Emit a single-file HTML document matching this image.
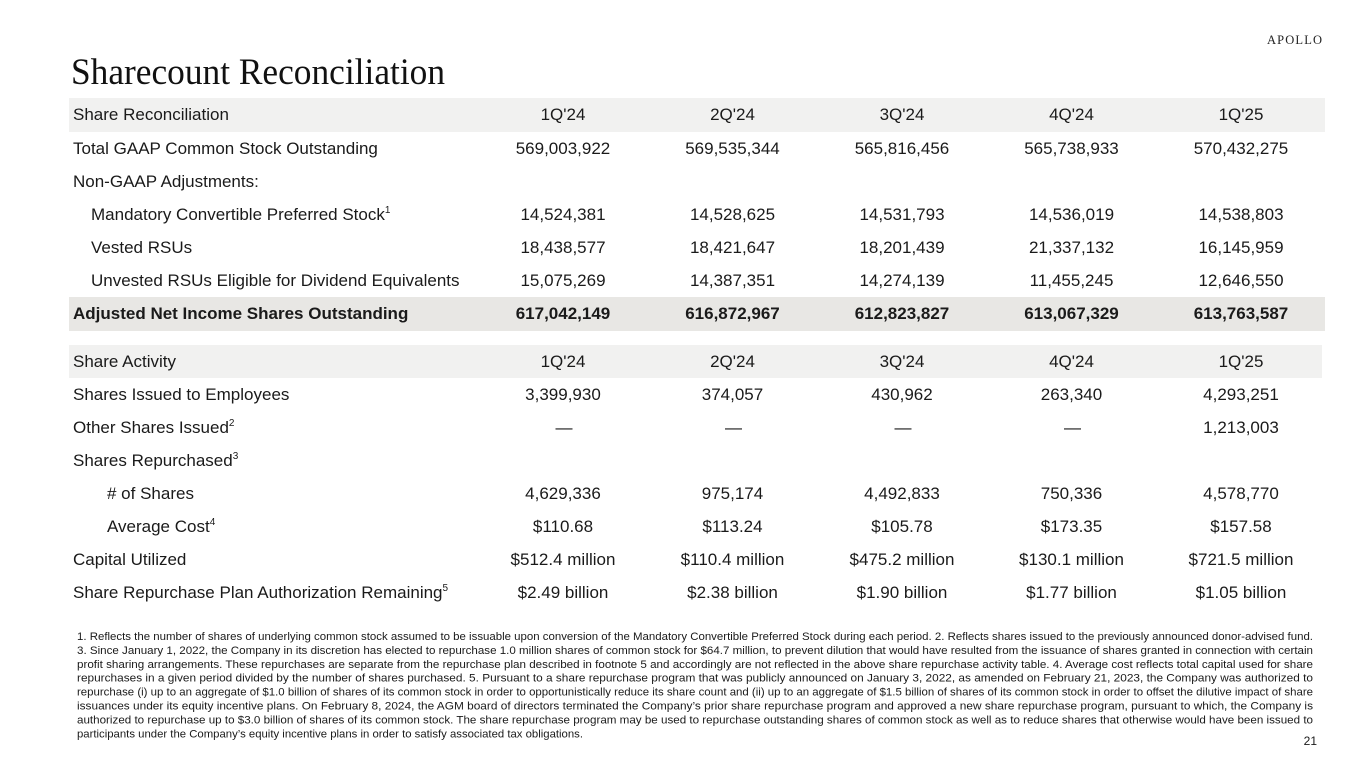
<!DOCTYPE html>
<html>
<head>
<meta charset="utf-8">
<style>
  html,body{margin:0;padding:0;background:#fff;}
  #page{position:relative;width:1365px;height:768px;overflow:hidden;background:#fff;
    font-family:"Liberation Sans",Arial,sans-serif;color:#1a1a1a;}
  .band{position:absolute;left:69px;}
  .row{position:absolute;left:0;width:1365px;height:33px;line-height:33px;font-size:17px;white-space:nowrap;}
  .row .lab{position:absolute;left:73px;top:0;}
  .row .v{position:absolute;top:0;width:170px;text-align:center;}
  .c1{left:478px;} .c2{left:647.5px;} .c3{left:817px;} .c4{left:986.5px;} .c5{left:1156px;}
  .b{font-weight:bold;}
  sup{font-size:10px;position:relative;top:-7px;vertical-align:baseline;line-height:0;}
  .i1{left:91px !important;}
  .i2{left:107px !important;}
  .d{position:relative;left:1px;}
</style>
</head>
<body>
<div id="page">
  <svg width="1365" height="768" style="position:absolute;left:0;top:0">
    <text x="71" y="84" font-family="Liberation Serif, serif" font-size="37" fill="#111" textLength="374" lengthAdjust="spacingAndGlyphs">Sharecount Reconciliation</text>
    <text x="1267" y="44" font-family="Liberation Serif, serif" font-size="12.5" fill="#222" textLength="55" lengthAdjust="spacing">APOLLO</text>
  </svg>

  <div class="band" style="top:98px;width:1256px;height:34px;background:#f1f1f0;"></div>
  <div class="band" style="top:297px;width:1256px;height:34px;background:#e8e7e4;"></div>
  <div class="band" style="top:345px;width:1253px;height:33px;background:#f1f1f0;"></div>

  <div class="row" style="top:98px"><span class="lab">Share Reconciliation</span>
    <span class="v c1">1Q'24</span><span class="v c2">2Q'24</span><span class="v c3">3Q'24</span><span class="v c4">4Q'24</span><span class="v c5">1Q'25</span></div>
  <div class="row" style="top:131.5px"><span class="lab">Total GAAP Common Stock Outstanding</span>
    <span class="v c1">569,003,922</span><span class="v c2">569,535,344</span><span class="v c3">565,816,456</span><span class="v c4">565,738,933</span><span class="v c5">570,432,275</span></div>
  <div class="row" style="top:164.5px"><span class="lab">Non-GAAP Adjustments:</span></div>
  <div class="row" style="top:197.5px"><span class="lab i1" style="left:90px">Mandatory Convertible Preferred Stock<sup>1</sup></span>
    <span class="v c1">14,524,381</span><span class="v c2">14,528,625</span><span class="v c3">14,531,793</span><span class="v c4">14,536,019</span><span class="v c5">14,538,803</span></div>
  <div class="row" style="top:230.5px"><span class="lab i1">Vested RSUs</span>
    <span class="v c1">18,438,577</span><span class="v c2">18,421,647</span><span class="v c3">18,201,439</span><span class="v c4">21,337,132</span><span class="v c5">16,145,959</span></div>
  <div class="row" style="top:263.5px"><span class="lab i1">Unvested RSUs Eligible for Dividend Equivalents</span>
    <span class="v c1">15,075,269</span><span class="v c2">14,387,351</span><span class="v c3">14,274,139</span><span class="v c4">11,455,245</span><span class="v c5">12,646,550</span></div>
  <div class="row b" style="top:297px"><span class="lab">Adjusted Net Income Shares Outstanding</span>
    <span class="v c1">617,042,149</span><span class="v c2">616,872,967</span><span class="v c3">612,823,827</span><span class="v c4">613,067,329</span><span class="v c5">613,763,587</span></div>

  <div class="row" style="top:344.5px"><span class="lab">Share Activity</span>
    <span class="v c1">1Q'24</span><span class="v c2">2Q'24</span><span class="v c3">3Q'24</span><span class="v c4">4Q'24</span><span class="v c5">1Q'25</span></div>
  <div class="row" style="top:378px"><span class="lab">Shares Issued to Employees</span>
    <span class="v c1">3,399,930</span><span class="v c2">374,057</span><span class="v c3">430,962</span><span class="v c4">263,340</span><span class="v c5">4,293,251</span></div>
  <div class="row" style="top:411px"><span class="lab">Other Shares Issued<sup>2</sup></span>
    <span class="v c1"><span class="d">—</span></span><span class="v c2"><span class="d">—</span></span><span class="v c3"><span class="d">—</span></span><span class="v c4"><span class="d">—</span></span><span class="v c5">1,213,003</span></div>
  <div class="row" style="top:444px"><span class="lab">Shares Repurchased<sup>3</sup></span></div>
  <div class="row" style="top:477px"><span class="lab i2"># of Shares</span>
    <span class="v c1">4,629,336</span><span class="v c2">975,174</span><span class="v c3">4,492,833</span><span class="v c4">750,336</span><span class="v c5">4,578,770</span></div>
  <div class="row" style="top:510px"><span class="lab i2">Average Cost<sup>4</sup></span>
    <span class="v c1">$110.68</span><span class="v c2">$113.24</span><span class="v c3">$105.78</span><span class="v c4">$173.35</span><span class="v c5">$157.58</span></div>
  <div class="row" style="top:543px"><span class="lab">Capital Utilized</span>
    <span class="v c1">$512.4 million</span><span class="v c2">$110.4 million</span><span class="v c3">$475.2 million</span><span class="v c4">$130.1 million</span><span class="v c5">$721.5 million</span></div>
  <div class="row" style="top:576px"><span class="lab">Share Repurchase Plan Authorization Remaining<sup>5</sup></span>
    <span class="v c1">$2.49 billion</span><span class="v c2">$2.38 billion</span><span class="v c3">$1.90 billion</span><span class="v c4">$1.77 billion</span><span class="v c5">$1.05 billion</span></div>

  <svg width="1365" height="768" style="position:absolute;left:0;top:0" font-family="Liberation Sans, Arial, sans-serif" font-size="11.2" fill="#1a1a1a">
    <text x="77" y="640" textLength="1236" lengthAdjust="spacingAndGlyphs">1. Reflects the number of shares of underlying common stock assumed to be issuable upon conversion of the Mandatory Convertible Preferred Stock during each period. 2. Reflects shares issued to the previously announced donor-advised fund.</text>
    <text x="77" y="653.9" textLength="1236" lengthAdjust="spacingAndGlyphs">3. Since January 1, 2022, the Company in its discretion has elected to repurchase 1.0 million shares of common stock for $64.7 million, to prevent dilution that would have resulted from the issuance of shares granted in connection with certain</text>
    <text x="77" y="667.8" textLength="1236" lengthAdjust="spacingAndGlyphs">profit sharing arrangements. These repurchases are separate from the repurchase plan described in footnote 5 and accordingly are not reflected in the above share repurchase activity table. 4. Average cost reflects total capital used for share</text>
    <text x="77" y="681.7" textLength="1236" lengthAdjust="spacingAndGlyphs">repurchases in a given period divided by the number of shares purchased. 5. Pursuant to a share repurchase program that was publicly announced on January 3, 2022, as amended on February 21, 2023, the Company was authorized to</text>
    <text x="77" y="695.6" textLength="1236" lengthAdjust="spacingAndGlyphs">repurchase (i) up to an aggregate of $1.0 billion of shares of its common stock in order to opportunistically reduce its share count and (ii) up to an aggregate of $1.5 billion of shares of its common stock in order to offset the dilutive impact of share</text>
    <text x="77" y="709.5" textLength="1236" lengthAdjust="spacingAndGlyphs">issuances under its equity incentive plans. On February 8, 2024, the AGM board of directors terminated the Company’s prior share repurchase program and approved a new share repurchase program, pursuant to which, the Company is</text>
    <text x="77" y="723.4" textLength="1236" lengthAdjust="spacingAndGlyphs">authorized to repurchase up to $3.0 billion of shares of its common stock. The share repurchase program may be used to repurchase outstanding shares of common stock as well as to reduce shares that otherwise would have been issued to</text>
    <text x="77" y="737.3" textLength="506" lengthAdjust="spacingAndGlyphs">participants under the Company’s equity incentive plans in order to satisfy associated tax obligations.</text>
    <text x="1317" y="745" font-size="12" text-anchor="end">21</text>
  </svg>
</div>
</body>
</html>
